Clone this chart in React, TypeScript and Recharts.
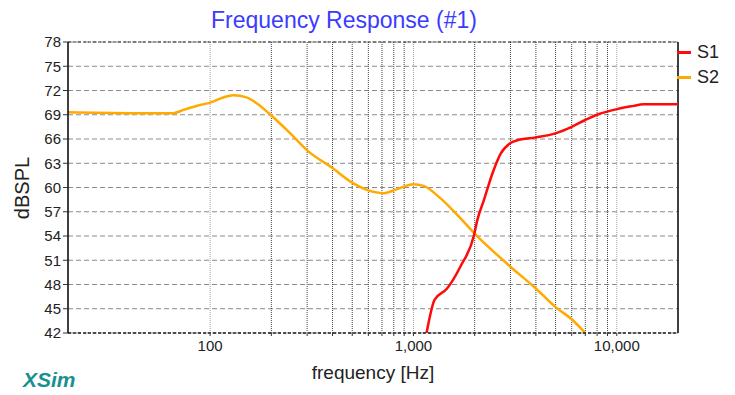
import { LineChart, Line, XAxis, YAxis, CartesianGrid, ReferenceLine } from 'recharts'

// S1 (red) – tweeter-ish rising curve
const S1_FREQ = [1160, 1270, 1463, 1700, 1985, 2062, 2218, 2450, 2685, 3000, 3300, 4000, 5000, 6000, 7000, 8000, 10000, 12100, 13500, 20000]
const S1_DB = [42.0, 46.1, 47.5, 50.2, 54.1, 56.0, 58.4, 61.8, 64.2, 65.5, 65.9, 66.2, 66.7, 67.5, 68.35, 69.0, 69.7, 70.1, 70.3, 70.3]

// S2 (orange) – woofer-ish falling curve
const S2_FREQ = [20, 40, 66, 74, 89, 100, 112, 130, 151, 170, 200, 250, 300, 400, 500, 590, 715, 832, 1000, 1121, 1360, 1700, 2000, 3000, 4000, 5000, 6000, 7000]
const S2_DB = [69.3, 69.2, 69.2, 69.6, 70.2, 70.5, 71.0, 71.4, 71.15, 70.4, 68.9, 66.6, 64.6, 62.4, 60.6, 59.7, 59.3, 59.8, 60.4, 60.2, 58.65, 56.2, 54.3, 50.2, 47.5, 45.2, 43.7, 42.0]

const Y_TICKS = [42, 45, 48, 51, 54, 57, 60, 63, 66, 69, 72, 75, 78]
const MAJOR_X = [100, 1000, 10000]
const MINOR_X = [200, 300, 400, 500, 600, 700, 800, 900, 2000, 3000, 4000, 5000, 6000, 7000, 8000, 9000]
const X_TICKS = [...MAJOR_X, ...MINOR_X].sort((a, b) => a - b)

const RED = '#ff0a0a'
const ORANGE = '#ffaa00'
const FONT = '"Liberation Sans", Arial, sans-serif'

const s1Data = S1_FREQ.map((f, i) => ({ f, db: S1_DB[i] }))
const s2Data = S2_FREQ.map((f, i) => ({ f, db: S2_DB[i] }))

function xLabel(v: number): string {
  if (!MAJOR_X.includes(v)) return ''
  return v.toLocaleString('en-US')
}

export default function App() {
  return (
    <div style={{ position: 'absolute', left: 0, top: 0, width: 735, height: 395, background: '#fff', fontFamily: FONT }}>
      <LineChart
        width={735}
        height={395}
        margin={{ top: 42, right: 57, left: 0, bottom: 32 }}
      >
        <CartesianGrid vertical={false} stroke="#8a8a8a" strokeDasharray="5 3" />
        {MAJOR_X.map((f) => (
          <ReferenceLine key={f} x={f} stroke="#a0a0a0" strokeDasharray="1 1" />
        ))}
        {MINOR_X.map((f) => (
          <ReferenceLine key={f} x={f} stroke="#444" strokeDasharray="1 1" />
        ))}
        <ReferenceLine y={78} stroke="#333" strokeDasharray="3 2" />
        <ReferenceLine x={20000} stroke="#000" strokeWidth={1.5} />
        <XAxis
          dataKey="f"
          type="number"
          scale="log"
          domain={[20, 20000]}
          allowDataOverflow
          ticks={X_TICKS}
          interval={0}
          tickFormatter={xLabel}
          tick={{ fill: '#222', fontSize: 15, fontFamily: FONT }}
          tickLine={{ stroke: '#333' }}
          tickSize={3}
          tickMargin={4}
          axisLine={{ stroke: '#222', strokeDasharray: '3 2', strokeWidth: 1.5 }}
          height={30}
        />
        <YAxis
          type="number"
          domain={[42, 78]}
          ticks={Y_TICKS}
          interval={0}
          allowDataOverflow
          tick={{ fill: '#222', fontSize: 15, fontFamily: FONT }}
          tickLine={{ stroke: '#333' }}
          tickSize={5}
          tickMargin={2}
          axisLine={{ stroke: '#000', strokeWidth: 1.5 }}
          width={68}
        />
        <Line data={s2Data} dataKey="db" type="monotone" stroke={ORANGE} strokeWidth={2.5} dot={false} isAnimationActive={false} />
        <Line data={s1Data} dataKey="db" type="monotone" stroke={RED} strokeWidth={2.5} dot={false} isAnimationActive={false} />
      </LineChart>

      {/* title */}
      <div style={{ position: 'absolute', left: 0, width: 688, top: 6, textAlign: 'center', color: '#3b3bff', fontSize: 23, lineHeight: '28px' }}>
        Frequency Response (#1)
      </div>

      {/* y label */}
      <div style={{ position: 'absolute', left: 22, top: 188, transform: 'translate(-50%, -50%) rotate(-90deg)', fontSize: 20, color: '#222', whiteSpace: 'nowrap' }}>
        dBSPL
      </div>

      {/* x label */}
      <div style={{ position: 'absolute', left: 0, width: 746, top: 361, textAlign: 'center', fontSize: 19, lineHeight: '24px', color: '#222' }}>
        frequency [Hz]
      </div>

      {/* legend */}
      {[{ name: 'S1', color: RED, y: 52 }, { name: 'S2', color: ORANGE, y: 77 }].map((s) => (
        <div key={s.name} style={{ position: 'absolute', left: 677, top: s.y - 11, height: 22, display: 'flex', alignItems: 'center' }}>
          <span style={{ display: 'inline-block', width: 14, height: 3, background: s.color, marginRight: 6 }} />
          <span style={{ fontSize: 18, color: '#222' }}>{s.name}</span>
        </div>
      ))}

      {/* watermark */}
      <div style={{ position: 'absolute', left: 23, top: 367, fontSize: 21, lineHeight: '26px', fontWeight: 'bold', fontStyle: 'italic', color: '#17918f' }}>
        XSim
      </div>
    </div>
  )
}
